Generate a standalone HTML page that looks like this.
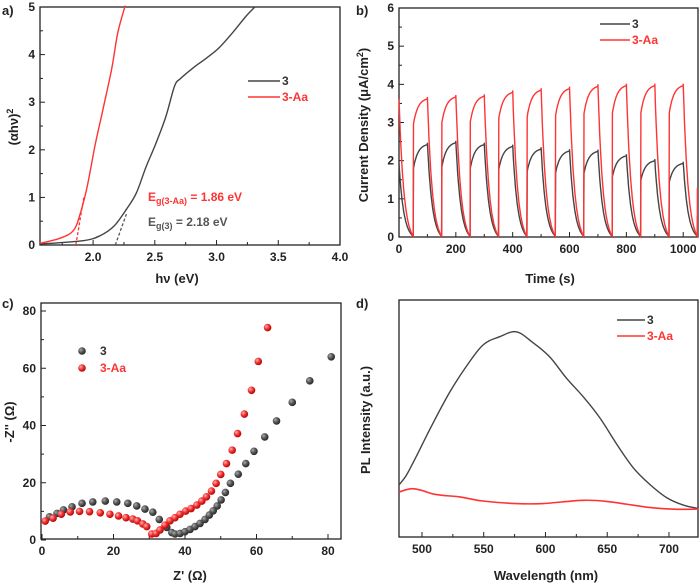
<!DOCTYPE html>
<html><head><meta charset="utf-8"><style>
html,body{margin:0;padding:0;background:#fff;}
svg{display:block;font-family:"Liberation Sans",sans-serif;}
</style></head><body>
<svg id="fig" width="700" height="586" viewBox="0 0 700 586">
<defs>
<radialGradient id="gBlack" cx="0.35" cy="0.35" r="0.7"><stop offset="0" stop-color="#aaa"/><stop offset="0.5" stop-color="#555"/><stop offset="1" stop-color="#222"/></radialGradient>
<radialGradient id="gRed" cx="0.35" cy="0.35" r="0.7"><stop offset="0" stop-color="#ffb0b0"/><stop offset="0.5" stop-color="#f03030"/><stop offset="1" stop-color="#b00000"/></radialGradient>
</defs>
</svg>
<script>
// ---- panel a data ----
const aBlackX=[1.57,1.92,2.06,2.17,2.27,2.35,2.43,2.51,2.59,2.66,2.71,2.81,2.92,3.02,3.13,3.24,3.31];
const aBlackY=[0.02,0.09,0.2,0.4,0.75,1.09,1.65,2.14,2.7,3.34,3.5,3.72,3.93,4.14,4.46,4.81,5.0];
const aRedX=[1.57,1.73,1.84,1.895,1.95,2.015,2.08,2.15,2.2,2.26];
const aRedY=[0.035,0.14,0.3,0.65,1.2,2.08,2.85,3.69,4.46,5.03];
const aXTicks=[2.0,2.5,3.0,3.5,4.0];
const aYTicks=[0,1,2,3,4,5];
// ---- panel b data ----
const bRedPeaks=[3.65,3.7,3.72,3.82,3.88,3.92,3.98,4.0,4.0,4.0];
const bBlackPeaks=[2.45,2.5,2.45,2.4,2.33,2.28,2.27,2.15,2.02,1.95];
const bXTicks=[0,200,400,600,800,1000];
const bYTicks=[0,1,2,3,4,5,6];
// ---- panel c data ----
const cBlackX=[2.1,4.2,6,8.4,11.2,14.2,17.7,20.9,24,26.5,28.8,31,32.8,34.9,36.3,37.2,38.6,40,41.4,42.8,44.2,45.6,46.8,47.9,49,50.1,51.3,52.7,54.9,57,59.3,62.3,65.6,70,74.9,80.9];
const cBlackY=[8.1,9.3,10.5,11.6,12.8,13.3,13.6,13.3,12.8,11.9,10.8,9.7,7.2,4.4,2.6,2.1,2.3,2.9,3.7,4.7,5.8,7.2,8.7,10.2,11.9,14,16.6,19.8,23,26.7,31,36,41.6,48.1,55.6,64];
const cRedX=[0.9,3.1,5.4,7.9,10.5,13.3,16.3,19,21.4,23.5,25.4,26.7,28.2,29.3,30.7,31.9,33,34.4,35.8,37.2,38.6,40.2,41.7,43.3,44.7,46,47.4,48.7,50,51.6,53.2,54.7,56.6,58.6,60.5,63.1];
const cRedY=[6.6,7.6,9,9.8,10,9.9,9.5,9,8.4,7.8,7.3,6.7,5.6,4.7,2.1,2.3,3.5,5.2,6.7,7.8,9,10.1,11,12.2,13.6,15.1,17.1,19.8,22.9,26.7,31.4,37.2,44,52.3,62.4,74.2];
const cXTicks=[0,20,40,60,80];
const cYTicks=[0,20,40,60,80];
// ---- panel d data ----
const dBlackX=[481.4,487.3,495.4,508.9,522.4,535.9,549.4,562.9,576.4,589.9,603.4,617,630.9,644.4,657.9,671.4,684.9,698.4,711.9,724];
const dBlackY=[22,26,34,48,61,72,81,84.5,86.6,82,76,67,59,50,39,29,22,16.5,13.4,12];
const dRedX=[481.4,491.4,499.5,511.6,530.5,549.4,576.4,598,631,652.6,685,706.6,724];
const dRedY=[19,20.4,19.7,17.9,16.9,15.2,14.1,14.1,15.5,14.8,12.4,11.7,11.8];
const dXTicks=[500,550,600,650,700];

const NS="http://www.w3.org/2000/svg";
const svg=document.getElementById('fig');
function mk(tag,attrs,parent){const e=document.createElementNS(NS,tag);for(const k in attrs)e.setAttribute(k,attrs[k]);(parent||svg).appendChild(e);return e;}
function lin(d0,d1,r0,r1){return v=>r0+(v-d0)*(r1-r0)/(d1-d0);}
function txt(x,y,s,opt,parent){const t=mk('text',Object.assign({x:x,y:y,'font-size':12,'font-weight':'bold',fill:'#222','text-anchor':'middle'},opt||{}),parent);t.textContent=s;return t;}
function pathFrom(xs,ys,sx,sy){let d='';for(let i=0;i<xs.length;i++)d+=(i?'L':'M')+sx(xs[i]).toFixed(1)+','+sy(ys[i]).toFixed(1);return d;}
function smoothFrom(xs,ys,sx,sy){
  const p=xs.map((x,i)=>[sx(x),sy(ys[i])]);
  let d='M'+p[0][0].toFixed(1)+','+p[0][1].toFixed(1);
  for(let i=0;i<p.length-1;i++){
    const p0=p[Math.max(0,i-1)],p1=p[i],p2=p[i+1],p3=p[Math.min(p.length-1,i+2)];
    const c1=[p1[0]+(p2[0]-p0[0])/6,p1[1]+(p2[1]-p0[1])/6];
    const c2=[p2[0]-(p3[0]-p1[0])/6,p2[1]-(p3[1]-p1[1])/6];
    d+='C'+c1[0].toFixed(1)+','+c1[1].toFixed(1)+' '+c2[0].toFixed(1)+','+c2[1].toFixed(1)+' '+p2[0].toFixed(1)+','+p2[1].toFixed(1);
  }
  return d;
}

function frame(name,L,T,R,B,sx,sy,xt,yt,xMinor,yMinor,showY,xfmt){
  const g=mk('g',{});
  
  
  const box=mk('rect',{x:L,y:T,width:R-L,height:B-T,fill:'none',stroke:'#222','stroke-width':1.3},g);
  
  
  xt.forEach(v=>{const x=sx(v);mk('line',{x1:x,x2:x,y1:B,y2:B-5,stroke:'#222','stroke-width':1},g);
    const t=txt(x,B+16,xfmt?xfmt(v):String(v),{},g);
    
    });
  xMinor.forEach(v=>{const x=sx(v);if(x>L&&x<R)mk('line',{x1:x,x2:x,y1:B,y2:B-3,stroke:'#222','stroke-width':1},g);});
  yt.forEach(v=>{const y=sy(v);mk('line',{x1:L,x2:L+5,y1:y,y2:y,stroke:'#222','stroke-width':1},g);
    if(showY){const t=txt(L-5,y+4,String(v),{'text-anchor':'end'},g);
    
    }});
  yMinor.forEach(v=>{const y=sy(v);if(y>T&&y<B)mk('line',{x1:L,x2:L+3,y1:y,y2:y,stroke:'#222','stroke-width':1},g);});
  return g;
}

// ===== Panel a =====
{
const L=40,R=340,T=7,B=245;
const sx=lin(1.57,4.0,L,R), sy=lin(0,5,B,T);
frame('panel-a-axes',L,T,R,B,sx,sy,aXTicks,aYTicks,[1.75,2.25,2.75,3.25,3.75],[0.5,1.5,2.5,3.5,4.5],true,v=>v.toFixed(1));
const d1=mk('line',{x1:sx(1.86),y1:sy(0),x2:sx(1.925),y2:sy(1.0),stroke:'#f33','stroke-width':1.3,'stroke-dasharray':'3,2'});


const d2=mk('line',{x1:sx(2.18),y1:sy(0),x2:sx(2.27),y2:sy(0.65),stroke:'#555','stroke-width':1.3,'stroke-dasharray':'3,2'});


const pb=mk('path',{d:smoothFrom(aBlackX,aBlackY,sx,sy),fill:'none',stroke:'#444','stroke-width':1.4});


const pr=mk('path',{d:smoothFrom(aRedX,aRedY,sx,sy),fill:'none',stroke:'#f33','stroke-width':1.4});


}
// ===== Panel b =====
{
const L=399,R=698,T=8,B=237;
const sx=lin(0,1050,L,L+0.2842*1050), sy=lin(0,6,B,T);
frame('panel-b-axes',L,T,R,B,sx,sy,bXTicks,bYTicks,[100,300,500,700,900],[0.5,1.5,2.5,3.5,4.5,5.5],true);
function wave(peaks,start,jump){
  const xs=[],ys=[];
  const tau=17, e50=Math.exp(-50/tau);
  for(let c=0;c<=10;c++){
    const base=c*100;
    const P=c<10?peaks[c]:0;
    const dp=c===0?start:peaks[c-1];
    for(let t=0;t<=50;t+=1){if(base+t>1050)break;xs.push(base+t);ys.push(dp*(Math.exp(-t/tau)-e50)/(1-e50)+0.02);}
    if(c===10){xs.push(1050);ys.push(peaks[9]*jump*0.4);break;}
    for(let t=51;t<=100;t+=1){const dt=t-50;xs.push(base+t);ys.push(P*(1-(1-jump)*Math.exp(-dt/16)));}
  }
  return [xs,ys];
}
const [bx,by]=wave(bBlackPeaks,1.9,0.72);
const [rx,ry]=wave(bRedPeaks,3.6,0.8);
const pb=mk('path',{d:pathFrom(bx,by,sx,sy),fill:'none',stroke:'#444','stroke-width':1.4});


const pr=mk('path',{d:pathFrom(rx,ry,sx,sy),fill:'none',stroke:'#f33','stroke-width':1.4});


}
// ===== Panel c =====
{
const L=41,R=341,T=303,B=539;
const sx=lin(0,80,42,328), sy=lin(0,80,540,311);
frame('panel-c-axes',L,T,R,B,sx,sy,cXTicks,cYTicks,[10,30,50,70],[10,30,50,70],true);
for(let i=0;i<cBlackX.length;i++){const c=mk('circle',{cx:sx(cBlackX[i]),cy:sy(cBlackY[i]),r:3.8,fill:'url(#gBlack)'});

}
for(let i=0;i<cRedX.length;i++){const c=mk('circle',{cx:sx(cRedX[i]),cy:sy(cRedY[i]),r:3.8,fill:'url(#gRed)'});

}
}
// ===== Panel d =====
{
const L=399,R=698,T=300,B=537;
const sx=lin(481.4,723.5,L,R), sy=lin(0,100,B,T);
frame('panel-d-axes',L,T,R,B,sx,sy,dXTicks,[],[525,575,625,675,725],[],false);
const pb=mk('path',{d:smoothFrom(dBlackX,dBlackY,sx,sy),fill:'none',stroke:'#444','stroke-width':1.4});


const pr=mk('path',{d:smoothFrom(dRedX,dRedY,sx,sy),fill:'none',stroke:'#f33','stroke-width':1.6});


}
</script>
<svg width="700" height="586" viewBox="0 0 700 586" style="position:absolute;left:0;top:0;font-family:'Liberation Sans',sans-serif;font-weight:bold;">
<text x="2" y="15" font-size="13" fill="#222">a)</text>
<text x="356" y="15" font-size="13" fill="#222">b)</text>
<text x="2" y="308" font-size="13" fill="#222">c)</text>
<text x="356" y="308" font-size="13" fill="#222">d)</text>
<text transform="translate(18,127) rotate(-90)" font-size="13" fill="#222" text-anchor="middle">(αhν)<tspan font-size="9" dy="-5">2</tspan></text>
<text x="177" y="283" font-size="13" fill="#222" text-anchor="middle">hν (eV)</text>
<text transform="translate(368,125) rotate(-90)" font-size="13" fill="#222" text-anchor="middle">Current Density (μA/cm<tspan font-size="9" dy="-5">2</tspan><tspan dy="5">)</tspan></text>
<text x="550" y="283" font-size="13" fill="#222" text-anchor="middle">Time (s)</text>
<text transform="translate(14,422) rotate(-90)" font-size="13" fill="#222" text-anchor="middle">-Z'' (Ω)</text>
<text x="190" y="580" font-size="13" fill="#222" text-anchor="middle">Z' (Ω)</text>
<text transform="translate(370,420) rotate(-90)" font-size="13" fill="#222" text-anchor="middle">PL Intensity (a.u.)</text>
<text x="546" y="580" font-size="13" fill="#222" text-anchor="middle">Wavelength (nm)</text>
<g>
<line x1="248" y1="81" x2="280" y2="81" stroke="#444" stroke-width="1.5"/><text x="282" y="85" font-size="12" fill="#333">3</text>
<line x1="248" y1="97" x2="280" y2="97" stroke="#f33" stroke-width="1.5"/><text x="282" y="101" font-size="12" fill="#f33">3-Aa</text>
</g>
<text x="148" y="201" font-size="12" fill="#f33">E<tspan font-size="9" dy="3">g(3-Aa)</tspan><tspan dy="-3"> = 1.86 eV</tspan></text>
<text x="148" y="226" font-size="12" fill="#555">E<tspan font-size="9" dy="3">g(3)</tspan><tspan dy="-3"> = 2.18 eV</tspan></text>
<g>
<line x1="600" y1="24" x2="630" y2="24" stroke="#444" stroke-width="1.5"/><text x="632" y="28" font-size="12" fill="#333">3</text>
<line x1="600" y1="40" x2="630" y2="40" stroke="#f33" stroke-width="1.5"/><text x="632" y="44" font-size="12" fill="#f33">3-Aa</text>
</g>
<g>
<circle cx="82" cy="351" r="3.8" fill="url(#gBlack)"/><text x="100" y="355" font-size="12" fill="#333">3</text>
<circle cx="82" cy="368" r="3.8" fill="url(#gRed)"/><text x="100" y="372" font-size="12" fill="#f33">3-Aa</text>
</g>
<g>
<line x1="617" y1="320" x2="645" y2="320" stroke="#444" stroke-width="1.5"/><text x="647" y="324" font-size="12" fill="#333">3</text>
<line x1="617" y1="336" x2="645" y2="336" stroke="#f33" stroke-width="1.5"/><text x="647" y="340" font-size="12" fill="#f33">3-Aa</text>
</g>
</svg>
</body></html>
